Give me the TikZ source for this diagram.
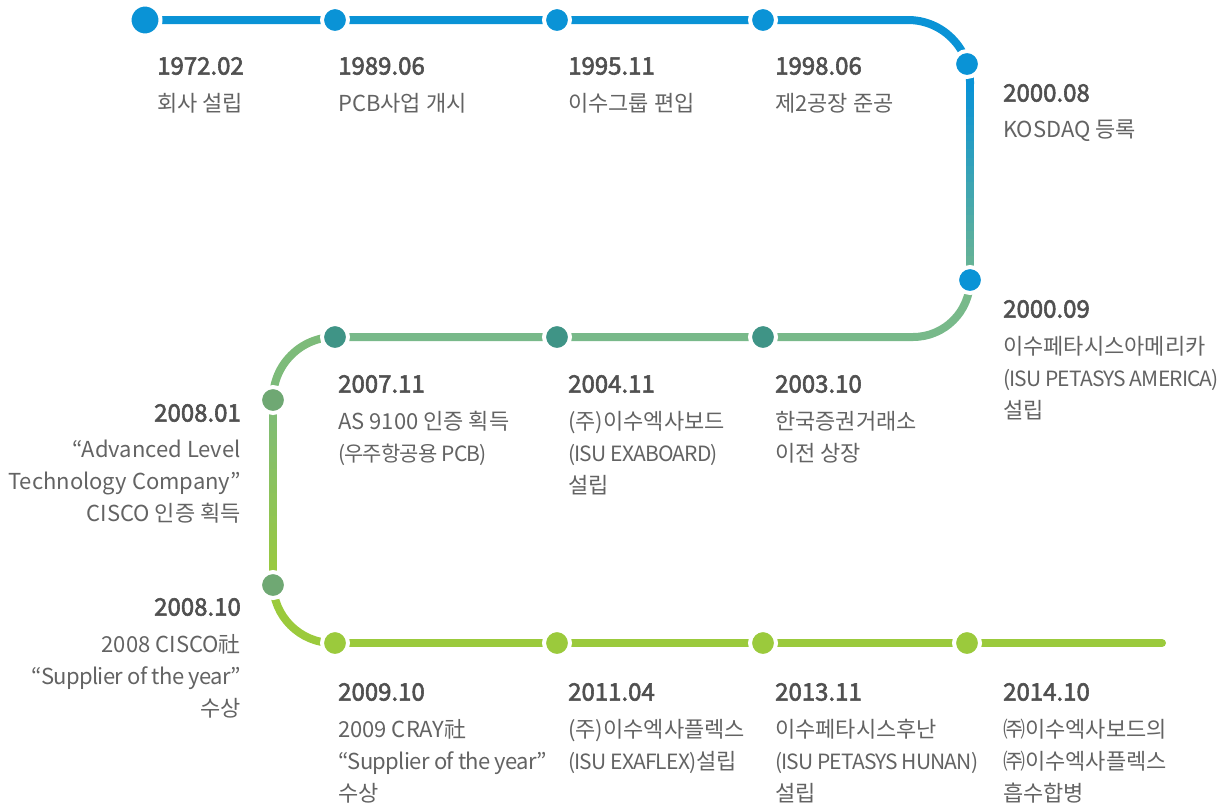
\documentclass[tikz,border=0pt]{standalone}
\usepackage{fontspec}
\setmainfont{Noto Sans CJK KR}
\newfontfamily\datefont[FakeBold=2.4]{Noto Sans CJK KR}
\usetikzlibrary{positioning, calc, backgrounds}

\definecolor{lineblue}{HTML}{0A93D6}
\definecolor{tealend}{HTML}{6DB591}
\definecolor{midgreen}{HTML}{78B98A}
\definecolor{midnode}{HTML}{3F9486}
\definecolor{leftgreen}{HTML}{7DBB7A}
\definecolor{leftnode}{HTML}{6FA873}
\definecolor{limegreen}{HTML}{9BCA3C}
\definecolor{dategray}{HTML}{505050}
\definecolor{memogray}{HTML}{636363}

\newcommand{\engsub}{\fontsize{21}{32}\selectfont\addfontfeatures{LetterSpace=-4}}
\newcommand{\tightline}{\addfontfeatures{LetterSpace=-3}}

\tikzset{
  station/.style={circle, draw=white, line width=4pt, inner sep=0pt, minimum size=26pt},
  bigstation/.style={station, minimum size=31pt},
  track/.style={line width=8pt},
  date/.style={font=\fontsize{24}{28}\datefont, text=dategray, inner sep=0pt},
  memo/.style={font=\fontsize{22}{32}\selectfont, text=memogray, align=left, inner sep=0pt},
  memor/.style={memo, align=right},
}

\begin{document}
\begin{tikzpicture}[x=1pt, y=-1pt]
\useasboundingbox (0,0) rectangle (1225,807);

% stations
\node[bigstation, fill=lineblue] (n1) at (145,20) {};
\node[station, fill=lineblue] (n2) at (335,20) {};
\node[station, fill=lineblue] (n3) at (557,20) {};
\node[station, fill=lineblue] (n4) at (763,20) {};
\node[station, fill=lineblue] (n5) at (967,64) {};
\node[station, fill=lineblue] (n6) at (970,280) {};
\node[station, fill=midnode] (n7) at (763,337) {};
\node[station, fill=midnode] (n8) at (557,337) {};
\node[station, fill=midnode] (n9) at (335,337) {};
\node[station, fill=leftnode] (n10) at (273,400) {};
\node[station, fill=leftnode] (n11) at (273,585) {};
\node[station, fill=limegreen] (n12) at (335,643) {};
\node[station, fill=limegreen] (n13) at (557,643) {};
\node[station, fill=limegreen] (n14) at (763,643) {};
\node[station, fill=limegreen] (n15) at (967,643) {};
\coordinate (c2) at (970,84);
\coordinate (tail) at (1162,643);

% dates and notes
\node[date, anchor=west] (d1) at (157,66) {1972.02};
\node[memo, below right=18pt and 0pt of d1.south west] (t1) {회사 설립};
\node[date, anchor=west] (d2) at (338,66) {1989.06};
\node[memo, below right=18pt and 0pt of d2.south west] (t2) {PCB사업 개시};
\node[date, anchor=west] (d3) at (568,66) {1995.11};
\node[memo, below right=18pt and 0pt of d3.south west] (t3) {이수그룹 편입};
\node[date, anchor=west] (d4) at (775,66) {1998.06};
\node[memo, below right=18pt and 0pt of d4.south west] (t4) {제2공장 준공};
\node[date, anchor=west] (d5) at (1003,93) {2000.08};
\node[memo, below right=18pt and 0pt of d5.south west] (t5) {KOSDAQ 등록};
\node[date, anchor=west] (d6) at (1003,309) {2000.09};
\node[memo, below right=18pt and 0pt of d6.south west] (t6) {이수페타시스아메리카\\{\engsub (ISU PETASYS AMERICA)}\\설립};

\node[date, anchor=west] (d7) at (338,384) {2007.11};
\node[memo, below right=18pt and 0pt of d7.south west] (t7) {AS 9100 인증 획득\\{\engsub (우주항공용 PCB)}};
\node[date, anchor=west] (d8) at (568,384) {2004.11};
\node[memo, below right=18pt and 0pt of d8.south west] (t8) {(주)이수엑사보드\\{\engsub (ISU EXABOARD)}\\설립};
\node[date, anchor=west] (d9) at (775,384) {2003.10};
\node[memo, below right=18pt and 0pt of d9.south west] (t9) {한국증권거래소\\이전 상장};

\node[date, anchor=east] (d10) at (241,413) {2008.01};
\node[memor, below left=18pt and 0pt of d10.south east] (t10) {“Advanced Level\\Technology Company”\\CISCO 인증 획득};
\node[date, anchor=east] (d11) at (241,607) {2008.10};
\node[memor, below left=18pt and 0pt of d11.south east] (t11) {2008 CISCO社\\{\tightline “Supplier of the year”}\\수상};

\node[date, anchor=west] (d12) at (338,692) {2009.10};
\node[memo, below right=18pt and 0pt of d12.south west] (t12) {2009 CRAY社\\{\tightline “Supplier of the year”}\\수상};
\node[date, anchor=west] (d13) at (568,692) {2011.04};
\node[memo, below right=18pt and 0pt of d13.south west] (t13) {(주)이수엑사플렉스\\{\engsub (ISU EXAFLEX)}설립};
\node[date, anchor=west] (d14) at (775,692) {2013.11};
\node[memo, below right=18pt and 0pt of d14.south west] (t14) {이수페타시스후난\\{\engsub (ISU PETASYS HUNAN)}\\설립};
\node[date, anchor=west] (d15) at (1003,692) {2014.10};
\node[memo, below right=18pt and 0pt of d15.south west] (t15) {㈜이수엑사보드의\\㈜이수엑사플렉스\\흡수합병};

% tracks
\begin{scope}[on background layer]
  \draw[track, lineblue, rounded corners=62pt] (n1.center) -- (n4 -| n6) -- (c2);
  \foreach \i in {0,...,23} {
    \pgfmathsetmacro\ta{\i/24}
    \pgfmathsetmacro\tb{min((\i+1.4)/24,1)}
    \pgfmathsetmacro\p{100-\i*100/23}
    \draw[track, lineblue!\p!tealend] ($(c2)!\ta!(n6.center)$) -- ($(c2)!\tb!(n6.center)$);
  }
  \draw[track, midgreen, rounded corners=57pt] (n6.center) -- (n6 |- n7) -- (n9.center);
  \draw[track, leftgreen, rounded corners=62pt] (n9.center) -- (n10 |- n9) -- (n10.center);
  \foreach \i in {0,...,23} {
    \pgfmathsetmacro\ta{\i/24}
    \pgfmathsetmacro\tb{min((\i+1.4)/24,1)}
    \pgfmathsetmacro\p{100-\i*100/23}
    \draw[track, leftgreen!\p!limegreen] ($(n10.center)!\ta!(n11.center)$) -- ($(n10.center)!\tb!(n11.center)$);
  }
  \draw[track, limegreen, rounded corners=60pt] (n11.center) -- (n11 |- n12) -- (n12.center);
  \draw[track, limegreen, line cap=round] (n12.center) -- (tail);
\end{scope}
\end{tikzpicture}
\end{document}
